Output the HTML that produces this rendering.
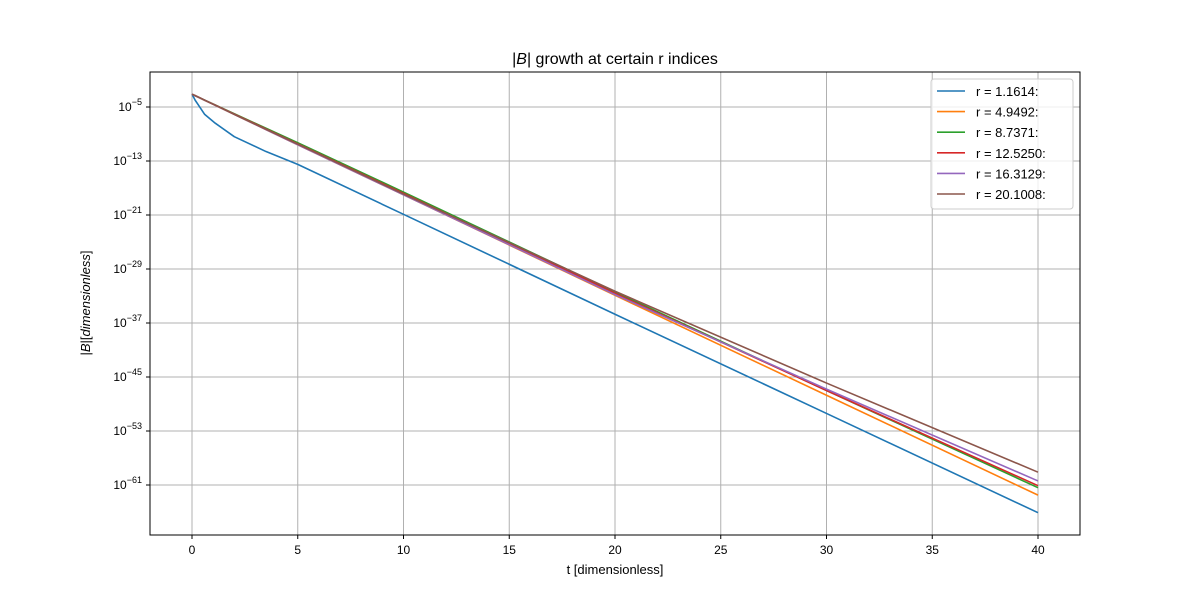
<!DOCTYPE html>
<html><head><meta charset="utf-8"><style>body{margin:0;background:#fff}svg{font-family:"Liberation Sans","DejaVu Sans",sans-serif}</style></head>
<body>
<svg id="chart" width="1200" height="600" xmlns="http://www.w3.org/2000/svg"></svg>
<script>
const tVals=[0,0.15,0.3,0.6,1.1,2,3.5,5,10,20,30,40];
const seriesNames=["r = 1.1614:","r = 4.9492:","r = 8.7371:","r = 12.5250:","r = 16.3129:","r = 20.1008:"];
const s1=[-3.1,-4.0,-4.7,-6.1,-7.4,-9.4,-11.6,-13.5,-20.9,-35.7,-50.4,-65.1];
const s2=[-3.1,-3.33,-3.55,-4.0,-4.75,-6.1,-8.35,-10.6,-18.0,-32.9,-47.7,-62.5];
const s3=[-3.1,-3.32,-3.54,-3.98,-4.7,-6.0,-8.15,-10.3,-17.6,-32.4,-47.0,-61.4];
const s4=[-3.1,-3.32,-3.54,-3.99,-4.72,-6.05,-8.25,-10.45,-17.8,-32.6,-47.0,-61.1];
const s5=[-3.1,-3.33,-3.55,-4.0,-4.75,-6.1,-8.35,-10.6,-18.0,-32.8,-46.8,-60.4];
const s6=[-3.1,-3.32,-3.55,-4.0,-4.73,-6.1,-8.3,-10.5,-17.9,-32.3,-45.9,-59.1];
const colors=["#1f77b4","#ff7f0e","#2ca02c","#d62728","#9467bd","#8c564b"];
const xTicks=[0,5,10,15,20,25,30,35,40];
const yTicks=[-5,-13,-21,-29,-37,-45,-53,-61];
const L=150,R=1080,T=72,B=535;
const X=t=>192+t*(1038-192)/40;
const Y=e=>107+(-5-e)*6.75;
const svg=document.getElementById('chart');
const NS="http://www.w3.org/2000/svg";
function mk(tag,attrs,parent){const el=document.createElementNS(NS,tag);for(const k in attrs)el.setAttribute(k,attrs[k]);(parent||svg).appendChild(el);return el;}
const grid=mk('g',{});


xTicks.forEach(t=>{mk('line',{x1:X(t),x2:X(t),y1:T,y2:B,stroke:'#b0b0b0','stroke-width':1},grid);
 mk('line',{x1:X(t),x2:X(t),y1:B,y2:B+4,stroke:'#000'});
 const tx=mk('text',{x:X(t),y:B+19,'text-anchor':'middle','font-size':12});tx.textContent=t;
 
 });
yTicks.forEach(e=>{mk('line',{x1:L,x2:R,y1:Y(e),y2:Y(e),stroke:'#b0b0b0','stroke-width':1},grid);
 mk('line',{x1:L-4,x2:L,y1:Y(e),y2:Y(e),stroke:'#000'});
 const tx=mk('text',{x:L-8,y:Y(e)+4,'text-anchor':'end','font-size':12});
 
 
 tx.innerHTML='10<tspan dy="-6" font-size="9">'+(e<0?'\u2212':'')+Math.abs(e)+'</tspan>';});
const all=[s1,s2,s3,s4,s5,s6];
const clip=mk('clipPath',{id:'c'});mk('rect',{x:L,y:T,width:R-L,height:B-T},clip);
all.forEach((s,i)=>{const p=mk('polyline',{points:s.map((v,j)=>X(tVals[j])+','+Y(v)).join(' '),fill:'none',stroke:colors[i],'stroke-width':1.6,'stroke-linejoin':'round','clip-path':'url(#c)'});
 
 });
const frame=mk('rect',{x:L,y:T,width:R-L,height:B-T,fill:'none',stroke:'#000','stroke-width':1});


const ti=mk('text',{x:615,y:64,'text-anchor':'middle','font-size':16});ti.innerHTML='|<tspan font-style="italic">B</tspan>| growth at certain r indices';


const xl=mk('text',{x:615,y:574,'text-anchor':'middle','font-size':13});xl.textContent='t [dimensionless]';


const yl=mk('text',{x:0,y:0,'text-anchor':'middle','font-size':13,transform:'translate(90,303) rotate(-90)'});yl.innerHTML='|<tspan font-style="italic">B</tspan>|[<tspan font-style="italic">dimensionless</tspan>]';


const lg=mk('g',{});


mk('rect',{x:931,y:79,width:142,height:130,rx:3,fill:'#fff','fill-opacity':0.8,stroke:'#ccc'},lg);
seriesNames.forEach((n,i)=>{const g=mk('g',{},lg);
 
 
 const y=91+i*20.6;mk('line',{x1:937,x2:965,y1:y,y2:y,stroke:colors[i],'stroke-width':1.6},g);
 const tx=mk('text',{x:976,y:y+5,'font-size':13},g);tx.textContent=n;});
</script>
</body></html>
